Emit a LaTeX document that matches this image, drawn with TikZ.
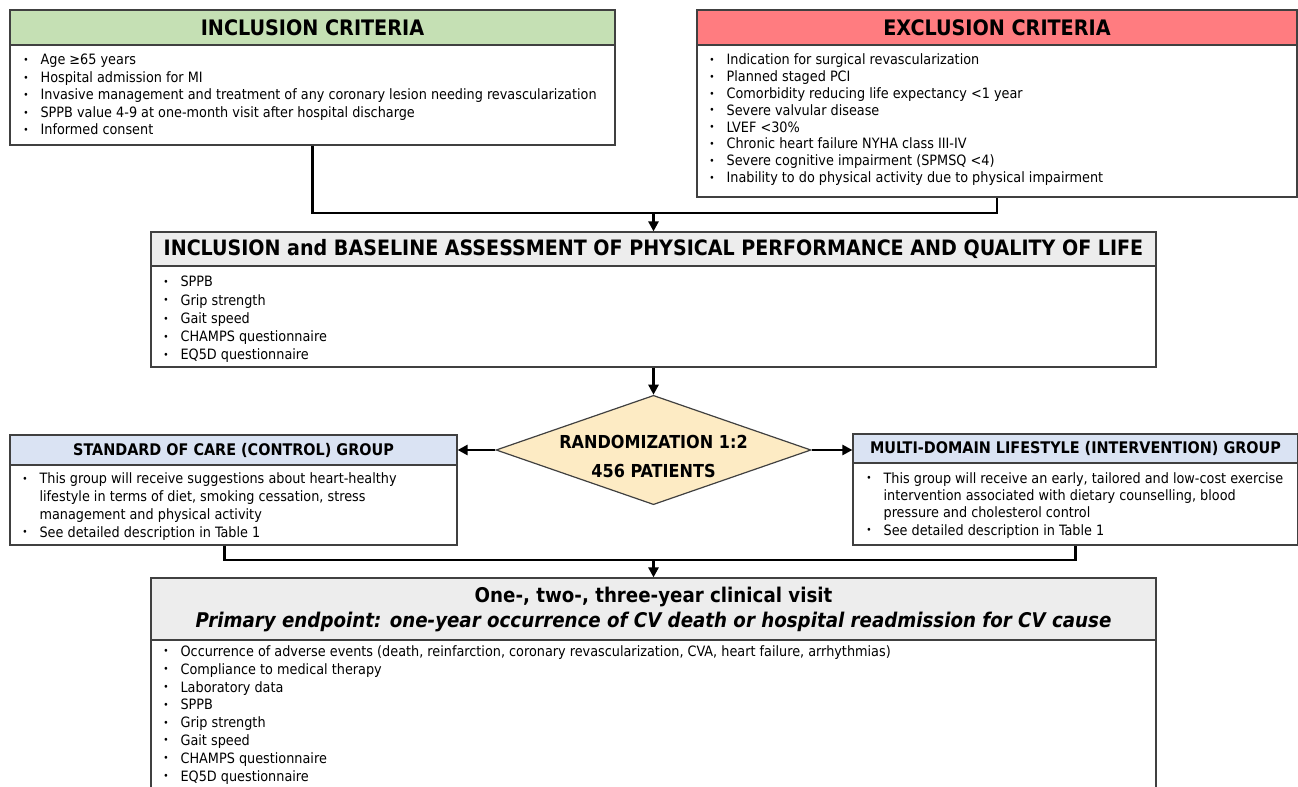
\documentclass[tikz,border=0pt]{standalone}
\usepackage{fontspec}
\setmainfont{DejaVu Sans Condensed}
\usetikzlibrary{shapes.geometric,fit,arrows.meta}
\definecolor{grn}{HTML}{C5E0B4}
\definecolor{rd}{HTML}{FF7C80}
\definecolor{gry}{HTML}{EDEDED}
\definecolor{blu}{HTML}{DAE3F3}
\definecolor{ylw}{HTML}{FDEBC4}
\definecolor{bdr}{HTML}{404040}
\newcommand\bul{\makebox[13pt][l]{\raisebox{0.1em}{\fontsize{7.5}{8}\selectfont\textbullet}}}
\newcommand\ind{\hspace*{13pt}}
\begin{document}
\begin{tikzpicture}[x=0.75pt,y=-0.75pt,
 frame/.style={draw=bdr, line width=0.9pt, inner sep=0pt},
 bighdr/.style={font=\bfseries\fontsize{16}{19}\selectfont, inner sep=0},
 midhdr/.style={font=\bfseries\fontsize{15.9}{19}\selectfont, inner sep=0},
 smallhdr/.style={font=\bfseries\fontsize{12}{14}\selectfont, inner sep=0},
 items/.style={align=left, inner sep=0, anchor=base west},
 conn/.style={line width=2.2pt},
 arr/.style={line width=2.2pt, -{Triangle[length=7.5pt,width=7.5pt]}}
]
\useasboundingbox (0,0) rectangle (1298,787);

% Inclusion
\node[frame, fill=white, fit={(10,10) (615,145)}] (inc) {};
\node[frame, fill=grn, fit={(10,10) (615,45)}] (inch) {};
\node[bighdr] (incht) at (inch.center) {INCLUSION CRITERIA};
\node[items, font=\fontsize{10.7}{13.125}\selectfont] (inci) at (23,135) {\bul Age ≥65 years\\
\bul Hospital admission for MI\\
\bul Invasive management and treatment of any coronary lesion needing revascularization\\
\bul SPPB value 4-9 at one-month visit after hospital discharge\\
\bul Informed consent};

% Exclusion
\node[frame, fill=white, fit={(697,10) (1297,197)}] (exc) {};
\node[frame, fill=rd, fit={(697,10) (1297,45)}] (exch) {};
\node[bighdr] (excht) at (exch.center) {EXCLUSION CRITERIA};
\node[items, font=\fontsize{10.7}{12.6}\selectfont] (exci) at (709,182.5) {\bul Indication for surgical revascularization\\
\bul Planned staged PCI\\
\bul Comorbidity reducing life expectancy <1 year\\
\bul Severe valvular disease\\
\bul LVEF <30\%\\
\bul Chronic heart failure NYHA class III-IV\\
\bul Severe cognitive impairment (SPMSQ <4)\\
\bul Inability to do physical activity due to physical impairment};

% Baseline
\node[frame, fill=white, fit={(151,232) (1156,367)}] (base) {};
\node[frame, fill=gry, fit={(151,232) (1156,266)}] (baseh) {};
\node[midhdr] (baseht) at (baseh.center) {INCLUSION and BASELINE ASSESSMENT OF PHYSICAL PERFORMANCE AND QUALITY OF LIFE};
\node[items, font=\fontsize{10.7}{13.7}\selectfont] (basei) at (163,360) {\bul SPPB\\
\bul Grip strength\\
\bul Gait speed\\
\bul CHAMPS questionnaire\\
\bul EQ5D questionnaire};

% Diamond
\node[diamond, draw=bdr, line width=0.9pt, fill=ylw, minimum width=236.25pt, minimum height=82pt, inner sep=0] (diam) at (653.5,450) {};
\node[font=\bfseries\fontsize{13.4}{21.75}\selectfont, align=center, inner sep=0] (diamt) at (653.5,456.5) {RANDOMIZATION 1:2\\456 PATIENTS};

% Control group
\node[frame, fill=white, fit={(10,435) (457,545)}] (ctrl) {};
\node[frame, fill=blu, fit={(10,435) (457,465)}] (ctrlh) {};
\node[smallhdr] (ctrlht) at (ctrlh.center) {STANDARD OF CARE (CONTROL) GROUP};
\node[items, font=\fontsize{10.7}{13.3}\selectfont] (ctrli) at (22,537) {\bul This group will receive suggestions about heart-healthy\\
\ind lifestyle in terms of diet, smoking cessation, stress\\
\ind management and physical activity\\
\bul See detailed description in Table 1};

% Intervention group
\node[frame, fill=white, fit={(853,434) (1298,545)}] (intv) {};
\node[frame, fill=blu, fit={(853,434) (1298,463)}] (intvh) {};
\node[smallhdr] (intvht) at (intvh.center) {MULTI-DOMAIN LIFESTYLE (INTERVENTION) GROUP};
\node[items, font=\fontsize{10.7}{12.9}\selectfont] (intvi) at (866,535) {\bul This group will receive an early, tailored and low-cost exercise\\
\ind intervention associated with dietary counselling, blood\\
\ind pressure and cholesterol control\\
\bul See detailed description in Table 1};

% Final
\node[frame, fill=white, fit={(151,578) (1156,800)}] (fin) {};
\node[frame, fill=gry, fit={(151,578) (1156,640)}] (finh) {};
\node[font=\bfseries\fontsize{15.2}{18.75}\selectfont, align=center, inner sep=0] (finht) at (653.5,609) {One-, two-, three-year clinical visit\\
\itshape Primary endpoint: one-year occurrence of CV death or hospital readmission for CV cause};
\node[items, font=\fontsize{10.7}{13.35}\selectfont] (fini) at (163,781) {\bul Occurrence of adverse events (death, reinfarction, coronary revascularization, CVA, heart failure, arrhythmias)\\
\bul Compliance to medical therapy\\
\bul Laboratory data\\
\bul SPPB\\
\bul Grip strength\\
\bul Gait speed\\
\bul CHAMPS questionnaire\\
\bul EQ5D questionnaire};

% Connectors
\coordinate (j1) at (653.5,213);
\coordinate (j2) at (653.5,560);
\draw[conn] (inc.south) |- (j1) -| (exc.south);
\draw[arr] (j1) -- (base.north);
\draw[arr] (base.south) -- (diam.north);
\draw[arr] (diam.west) -- (ctrl.east |- diam.west);
\draw[arr] (diam.east) -- (intv.west |- diam.east);
\draw[conn] ([xshift=-7pt]ctrl.south) |- (j2) -| (intv.south);
\draw[arr] (j2) -- (fin.north);
\end{tikzpicture}
\end{document}
